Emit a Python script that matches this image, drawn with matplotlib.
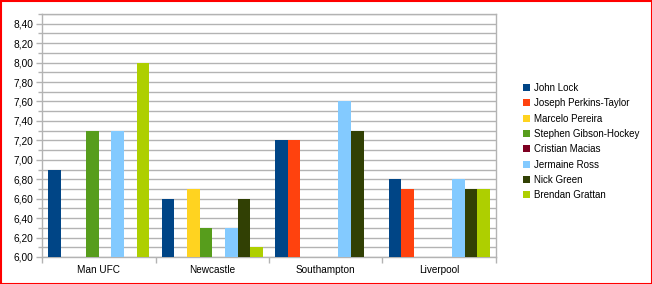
import matplotlib
matplotlib.use("Agg")
import matplotlib.pyplot as plt
import numpy as np
from matplotlib.ticker import MultipleLocator, FixedLocator

plt.rcParams["font.family"] = ["Liberation Sans", "DejaVu Sans"]

categories = ["Man UFC", "Newcastle", "Southampton", "Liverpool"]
players = [
    "John Lock",
    "Joseph Perkins-Taylor",
    "Marcelo Pereira",
    "Stephen Gibson-Hockey",
    "Cristian Macias",
    "Jermaine Ross",
    "Nick Green",
    "Brendan Grattan",
]
nan = np.nan
john_lock = [6.9, 6.6, 7.2, 6.8]
joseph_perkins_taylor = [nan, nan, 7.2, 6.7]
marcelo_pereira = [nan, 6.7, nan, nan]
stephen_gibson_hockey = [7.3, 6.3, nan, nan]
cristian_macias = [nan, nan, nan, nan]
jermaine_ross = [7.3, 6.3, 7.6, 6.8]
nick_green = [nan, 6.6, 7.3, 6.7]
brendan_grattan = [8.0, 6.1, nan, 6.7]
series = [john_lock, joseph_perkins_taylor, marcelo_pereira, stephen_gibson_hockey,
          cristian_macias, jermaine_ross, nick_green, brendan_grattan]
colors = ["#004586", "#ff420e", "#ffd320", "#579d1c",
          "#7e0021", "#83caff", "#314004", "#aecf00"]

fig = plt.figure(figsize=(6.52, 2.84), dpi=100)
fig.patch.set_facecolor("white")
ax = fig.add_axes([42 / 652, 27 / 284, 454 / 652, 243 / 284])

grid_color = "#b3b3b3"
x = np.arange(len(categories))
bar_w = 0.89 / len(series)
for i, (vals, name, col) in enumerate(zip(series, players, colors)):
    offs = (i - (len(series) - 1) / 2) * bar_w
    ax.bar(x + offs, vals, width=bar_w, color=col, label=name, zorder=3)

ax.set_ylim(6.0, 8.5)
ax.set_xlim(-0.5, len(categories) - 0.5)
ax.yaxis.set_major_locator(FixedLocator(np.round(np.arange(6.0, 8.41, 0.2), 2)))
ax.yaxis.set_minor_locator(MultipleLocator(0.1))
ax.yaxis.set_major_formatter(plt.FuncFormatter(lambda v, p: f"{v:.2f}".replace(".", ",")))
ax.grid(True, axis="y", which="both", color=grid_color, linewidth=1.0, zorder=0)

ax.set_xticks(x)
ax.set_xticklabels(categories)
ax.set_xticks(np.arange(-0.5, len(categories)), minor=True)
ax.tick_params(axis="x", which="major", length=0, pad=6, labelsize=7.2, colors="#000000")
ax.tick_params(axis="x", which="minor", length=4, color=grid_color, width=1)
ax.tick_params(axis="y", which="both", length=4, color=grid_color, width=1,
               labelsize=7.3, pad=2)
ax.tick_params(axis="y", which="minor", length=3)
for sp in ax.spines.values():
    sp.set_color(grid_color)
    sp.set_linewidth(1.0)

leg = fig.legend(loc="upper left", bbox_to_anchor=(519 / 652, 1 - 79 / 284),
                 frameon=False, fontsize=7.0, handlelength=0.75, handleheight=0.75,
                 handletextpad=0.35, labelspacing=0.55, borderaxespad=0)

fig.add_artist(plt.Rectangle((0.5 / 652, 0.5 / 284), 651 / 652, 283 / 284,
                             transform=fig.transFigure, fill=False,
                             edgecolor="#ff0000", linewidth=1.5))

fig.savefig("out.png", dpi=100)
